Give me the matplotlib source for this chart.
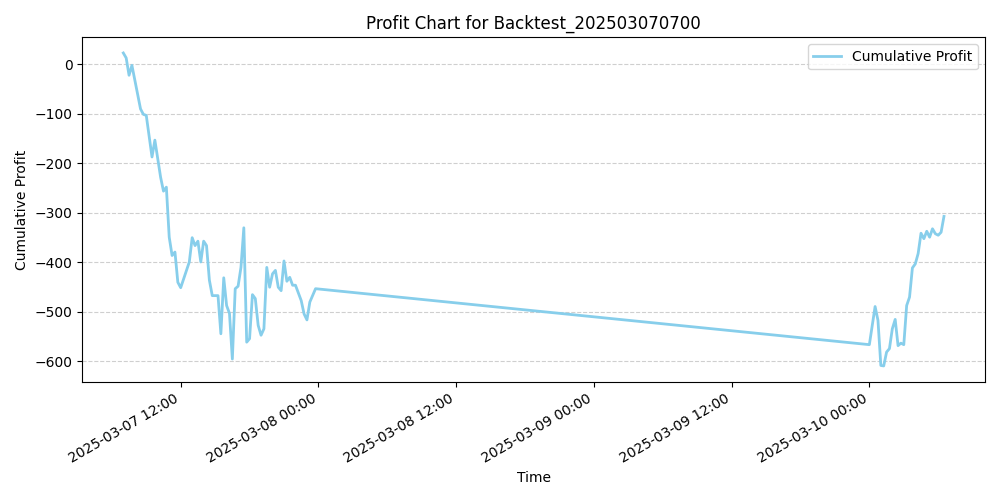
import matplotlib
matplotlib.use("Agg")
import matplotlib.pyplot as plt
import matplotlib.dates as mdates
import pandas as pd

times_day1 = ["07:00","07:15","07:30","07:45","08:30","08:45","09:00","09:30","09:45","10:15","10:30","10:45",
              "11:00","11:15","11:30","11:45","12:00","12:45","13:00","13:15","13:30","13:45","14:00","14:15",
              "14:30","14:45","15:15","15:30","15:45","16:00","16:15","16:30","16:45","17:00","17:15","17:30",
              "17:45","18:00","18:15","18:30","18:45","19:00","19:15","19:30","19:45","20:00","20:15","20:30",
              "20:45","21:00","21:15","21:30","21:45","22:00","22:30","22:45","23:00","23:15","23:45"]
profit_day1 = [23,13,-22,-2,-90,-101,-103,-187,-153,-228,-256,-248,
               -349,-386,-379,-440,-451,-399,-350,-366,-357,-399,-357,-366,
               -436,-467,-467,-544,-431,-487,-503,-595,-453,-448,-410,-330,
               -561,-554,-465,-473,-527,-547,-534,-410,-450,-423,-416,-450,
               -457,-397,-438,-430,-446,-446,-477,-504,-516,-480,-453]
times_day4 = ["00:00","00:30","00:45","01:00","01:15","01:30","01:45","02:00","02:15","02:30","02:45","03:00",
              "03:15","03:30","03:45","04:00","04:15","04:30","04:45","05:00","05:15","05:30","05:45","06:00",
              "06:15","06:30"]
profit_day4 = [-566,-489,-517,-608,-609,-581,-574,-534,-515,-568,-563,-566,
               -487,-470,-411,-403,-382,-341,-352,-337,-349,-332,-342,-345,
               -339,-307]

times = pd.to_datetime(["2025-03-07 " + t for t in times_day1] + ["2025-03-10 " + t for t in times_day4])
profit = profit_day1 + profit_day4

fig, ax = plt.subplots(figsize=(10, 5), dpi=100)
ax.plot(times, profit, color="skyblue", linewidth=2, label="Cumulative Profit")
ax.set_title("Profit Chart for Backtest_202503070700")
ax.set_xlabel("Time")
ax.set_ylabel("Cumulative Profit")
ax.grid(axis="y", linestyle="--", alpha=0.6)
ax.legend(loc="upper right")
ax.xaxis.set_major_locator(mdates.HourLocator(byhour=[0, 12]))
ax.xaxis.set_major_formatter(mdates.DateFormatter("%Y-%m-%d %H:%M"))
fig.autofmt_xdate()
fig.tight_layout()
fig.savefig("out.png")
